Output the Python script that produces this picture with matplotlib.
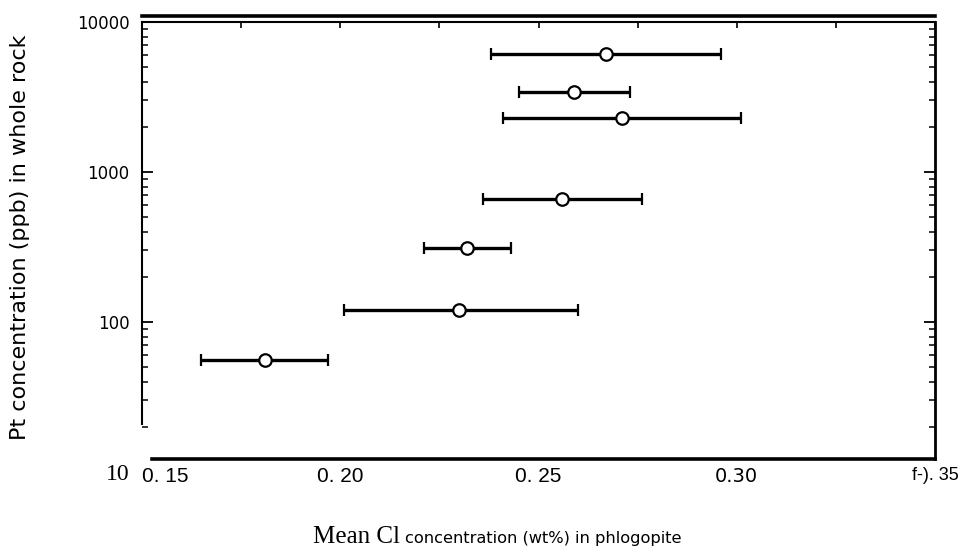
import matplotlib
matplotlib.use("Agg")
import matplotlib.pyplot as plt
from matplotlib.lines import Line2D
from matplotlib.ticker import MultipleLocator, LogLocator, NullFormatter

# Mean Cl in phlogopite (wt%) with range, and Pt in whole rock (ppb)
cl_mean = [0.267, 0.259, 0.271, 0.256, 0.232, 0.230, 0.181]
cl_low = [0.238, 0.245, 0.241, 0.236, 0.221, 0.201, 0.165]
cl_high = [0.296, 0.273, 0.301, 0.276, 0.243, 0.260, 0.197]
pt_ppb = [6100, 3400, 2300, 660, 310, 120, 56]

x_ticks = [0.15, 0.20, 0.25, 0.30, 0.35]
x_tick_labels = ["0. 15", "0. 20", "0. 25", "0.30", "f-). 35"]
y_ticks = [10, 100, 1000, 10000]
y_tick_labels = ["10", "100", "1000", "10000"]

W, H = 962, 555
fig = plt.figure(figsize=(W / 100, H / 100), dpi=100)
ax = fig.add_axes([142 / W, 1 - 472 / H, (935 - 142) / W, (472 - 22) / H])

ax.set_xscale("linear")
ax.set_yscale("log")
ax.set_xlim(0.15, 0.35)
ax.set_ylim(10, 10000)

xerr = [[m - lo for m, lo in zip(cl_mean, cl_low)],
        [hi - m for m, hi in zip(cl_mean, cl_high)]]
ax.errorbar(cl_mean, pt_ppb, xerr=xerr, fmt="o", color="black",
            ecolor="black", elinewidth=2.4, capsize=4, capthick=1.6,
            markersize=9, markerfacecolor="white", markeredgecolor="black",
            markeredgewidth=1.6, zorder=3)

# frame
base_y = 12.2
ax.spines["bottom"].set_position(("data", base_y))
ax.spines["bottom"].set_bounds(0.1525, 0.35)
ax.spines["bottom"].set_linewidth(2.6)
ax.spines["left"].set_bounds(21, 10000)
ax.spines["left"].set_linewidth(1.5)
ax.spines["right"].set_bounds(base_y, 10000)
ax.spines["right"].set_linewidth(2.0)
ax.spines["top"].set_linewidth(1.5)
ax.add_line(Line2D([0, 1], [1.0133, 1.0133], transform=ax.transAxes,
                   color="black", lw=2.6, clip_on=False))

# x ticks: labels below, small marks along the top only
ax.set_xticks(x_ticks, labels=x_tick_labels)
ax.xaxis.set_minor_locator(MultipleLocator(0.025))
ax.tick_params(axis="x", which="both", bottom=False, top=True,
               direction="in", length=4, width=1.2, pad=6)

# y ticks: log ticks pointing inward on both sides
ax.set_yticks(y_ticks, labels=y_tick_labels)
ax.yaxis.set_minor_locator(LogLocator(base=10, subs=range(2, 10)))
ax.yaxis.set_minor_formatter(NullFormatter())
ax.tick_params(axis="y", which="major", left=True, right=True,
               direction="in", length=8, width=1.3, pad=9)
ax.tick_params(axis="y", which="minor", left=True, right=True,
               direction="in", length=4, width=1.1)
bottom_tick = ax.yaxis.get_major_ticks()[0]
bottom_tick.tick1line.set_visible(False)
bottom_tick.tick2line.set_visible(False)

for lbl in ax.get_xticklabels():
    txt = lbl.get_text()
    if txt == "0.30":
        lbl.set_fontfamily("DejaVu Sans")
        lbl.set_fontsize(14)
    elif txt.startswith("f"):
        lbl.set_fontfamily("Liberation Sans")
        lbl.set_fontsize(13)
    else:
        lbl.set_fontfamily("Liberation Sans")
        lbl.set_fontsize(15)
ax.get_xticklabels()[0].set_horizontalalignment("left")

for lbl in ax.get_yticklabels():
    if lbl.get_text() == "10":
        lbl.set_fontfamily("Liberation Serif")
        lbl.set_fontsize(17)
    else:
        lbl.set_fontfamily("DejaVu Sans")
        lbl.set_fontsize(12)

# axis titles
fig.text(20 / W, 1 - 237 / H, "Pt concentration (ppb) in whole rock",
         rotation=90, ha="center", va="center", fontsize=16,
         family="DejaVu Sans")
fig.text(313 / W, 1 - 543 / H, "Mean Cl", ha="left", va="baseline",
         fontsize=18, family="Liberation Serif")
fig.text(405 / W, 1 - 543 / H, "concentration (wt%) in phlogopite",
         ha="left", va="baseline", fontsize=11.7, family="DejaVu Sans")

fig.savefig("out.png", dpi=100)
